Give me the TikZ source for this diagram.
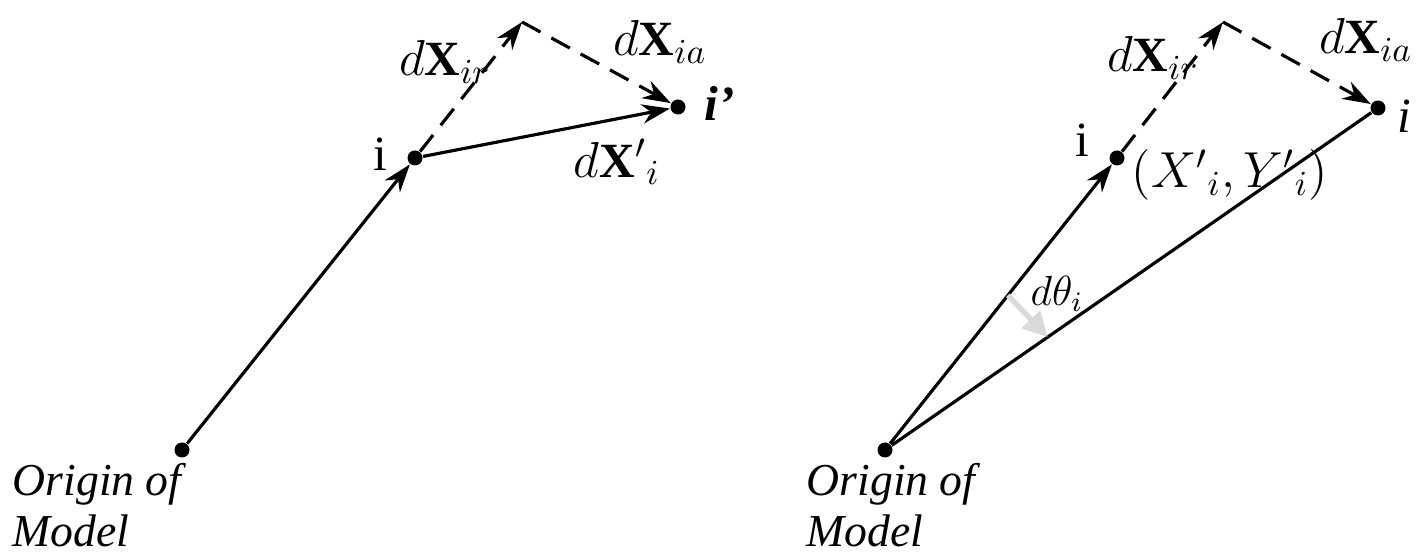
\documentclass[tikz,border=0pt]{standalone}
\usepackage{fontspec}
\setmainfont{Liberation Serif}
\usetikzlibrary{arrows.meta,calc}
\begin{document}
\begin{tikzpicture}[x=1cm,y=1cm,font=\fontsize{12}{14.5}\selectfont,
    dot/.style={circle,fill=black,inner sep=0pt,minimum size=0.15cm},
    vec/.style={line width=0.9pt,-{Stealth[length=8pt,width=5.5pt]}},
    part/.style={vec,dash pattern=on 6pt off 3.5pt},
    lab/.style={font=\fontsize{14}{16}\selectfont},
    origin/.style={anchor=north west,align=left,inner sep=0pt,font=\fontsize{13}{14.5}\selectfont\itshape}]
  \useasboundingbox (0,0) rectangle (14.17,5.6);
  % left: displacement of point i
  \node[dot] (o1) at (1.82,1.10) {};
  \node[dot] (i1) at (4.15,4.02) {};
  \coordinate (a1) at (5.22,5.38);
  \node[dot] (p1) at (6.78,4.53) {};
  \draw[vec] (o1) -- (i1);
  \draw[vec] (i1) -- (p1);
  \draw[part] (i1) -- (a1);
  \draw[part] (a1) -- (p1);
  \node[lab] (ni1) at (3.80,4.06) {i};
  \node[lab] (ir1) at (4.45,4.98) {$d\mathbf{X}_{ir}$};
  \node[lab] (ia1) at (6.60,5.18) {$d\mathbf{X}_{ia}$};
  \node[lab] (dx1) at (6.17,3.98) {$d\mathbf{X}'{}_{i}$};
  \node[lab] (np1) at (7.20,4.57) {\textbf{\textit{i’}}};
  \node[origin] (or1) at (0.12,0.97) {Origin of\\Model};
  % right: rotation about the origin
  \node[dot] (o2) at (8.85,1.10) {};
  \node[dot] (i2) at (11.17,4.02) {};
  \coordinate (a2) at (12.23,5.38);
  \node[dot] (p2) at (13.78,4.52) {};
  \draw[vec] (o2) -- (i2);
  \draw[line width=0.9pt] (o2) -- (p2);
  \draw[part] (i2) -- (a2);
  \draw[part] (a2) -- (p2);
  \coordinate (t1) at ($(o2)!0.53!(i2)$);
  \coordinate (t2) at ($(o2)!0.33!(p2)$);
  \draw[black!15,line width=1.5pt,-{Triangle[length=7pt,width=7pt]}] (t1) -- (t2);
  \node[lab] (ni2) at (10.82,4.20) {i};
  \node[lab] (ir2) at (11.53,5.02) {$d\mathbf{X}_{ir}$};
  \node[lab,anchor=east,inner sep=1pt] (ia2) at (14.17,5.20) {$d\mathbf{X}_{ia}$};
  \node[lab] (np2) at (14.04,4.44) {\textit{i}};
  \node[lab] (xy2) at (12.30,3.85) {$(X'{}_{i},Y'{}_{i})$};
  \node (th2) at (10.57,2.66) {$d\theta_{i}$};
  \node[origin] (or2) at (8.06,0.97) {Origin of\\Model};
\end{tikzpicture}
\end{document}
